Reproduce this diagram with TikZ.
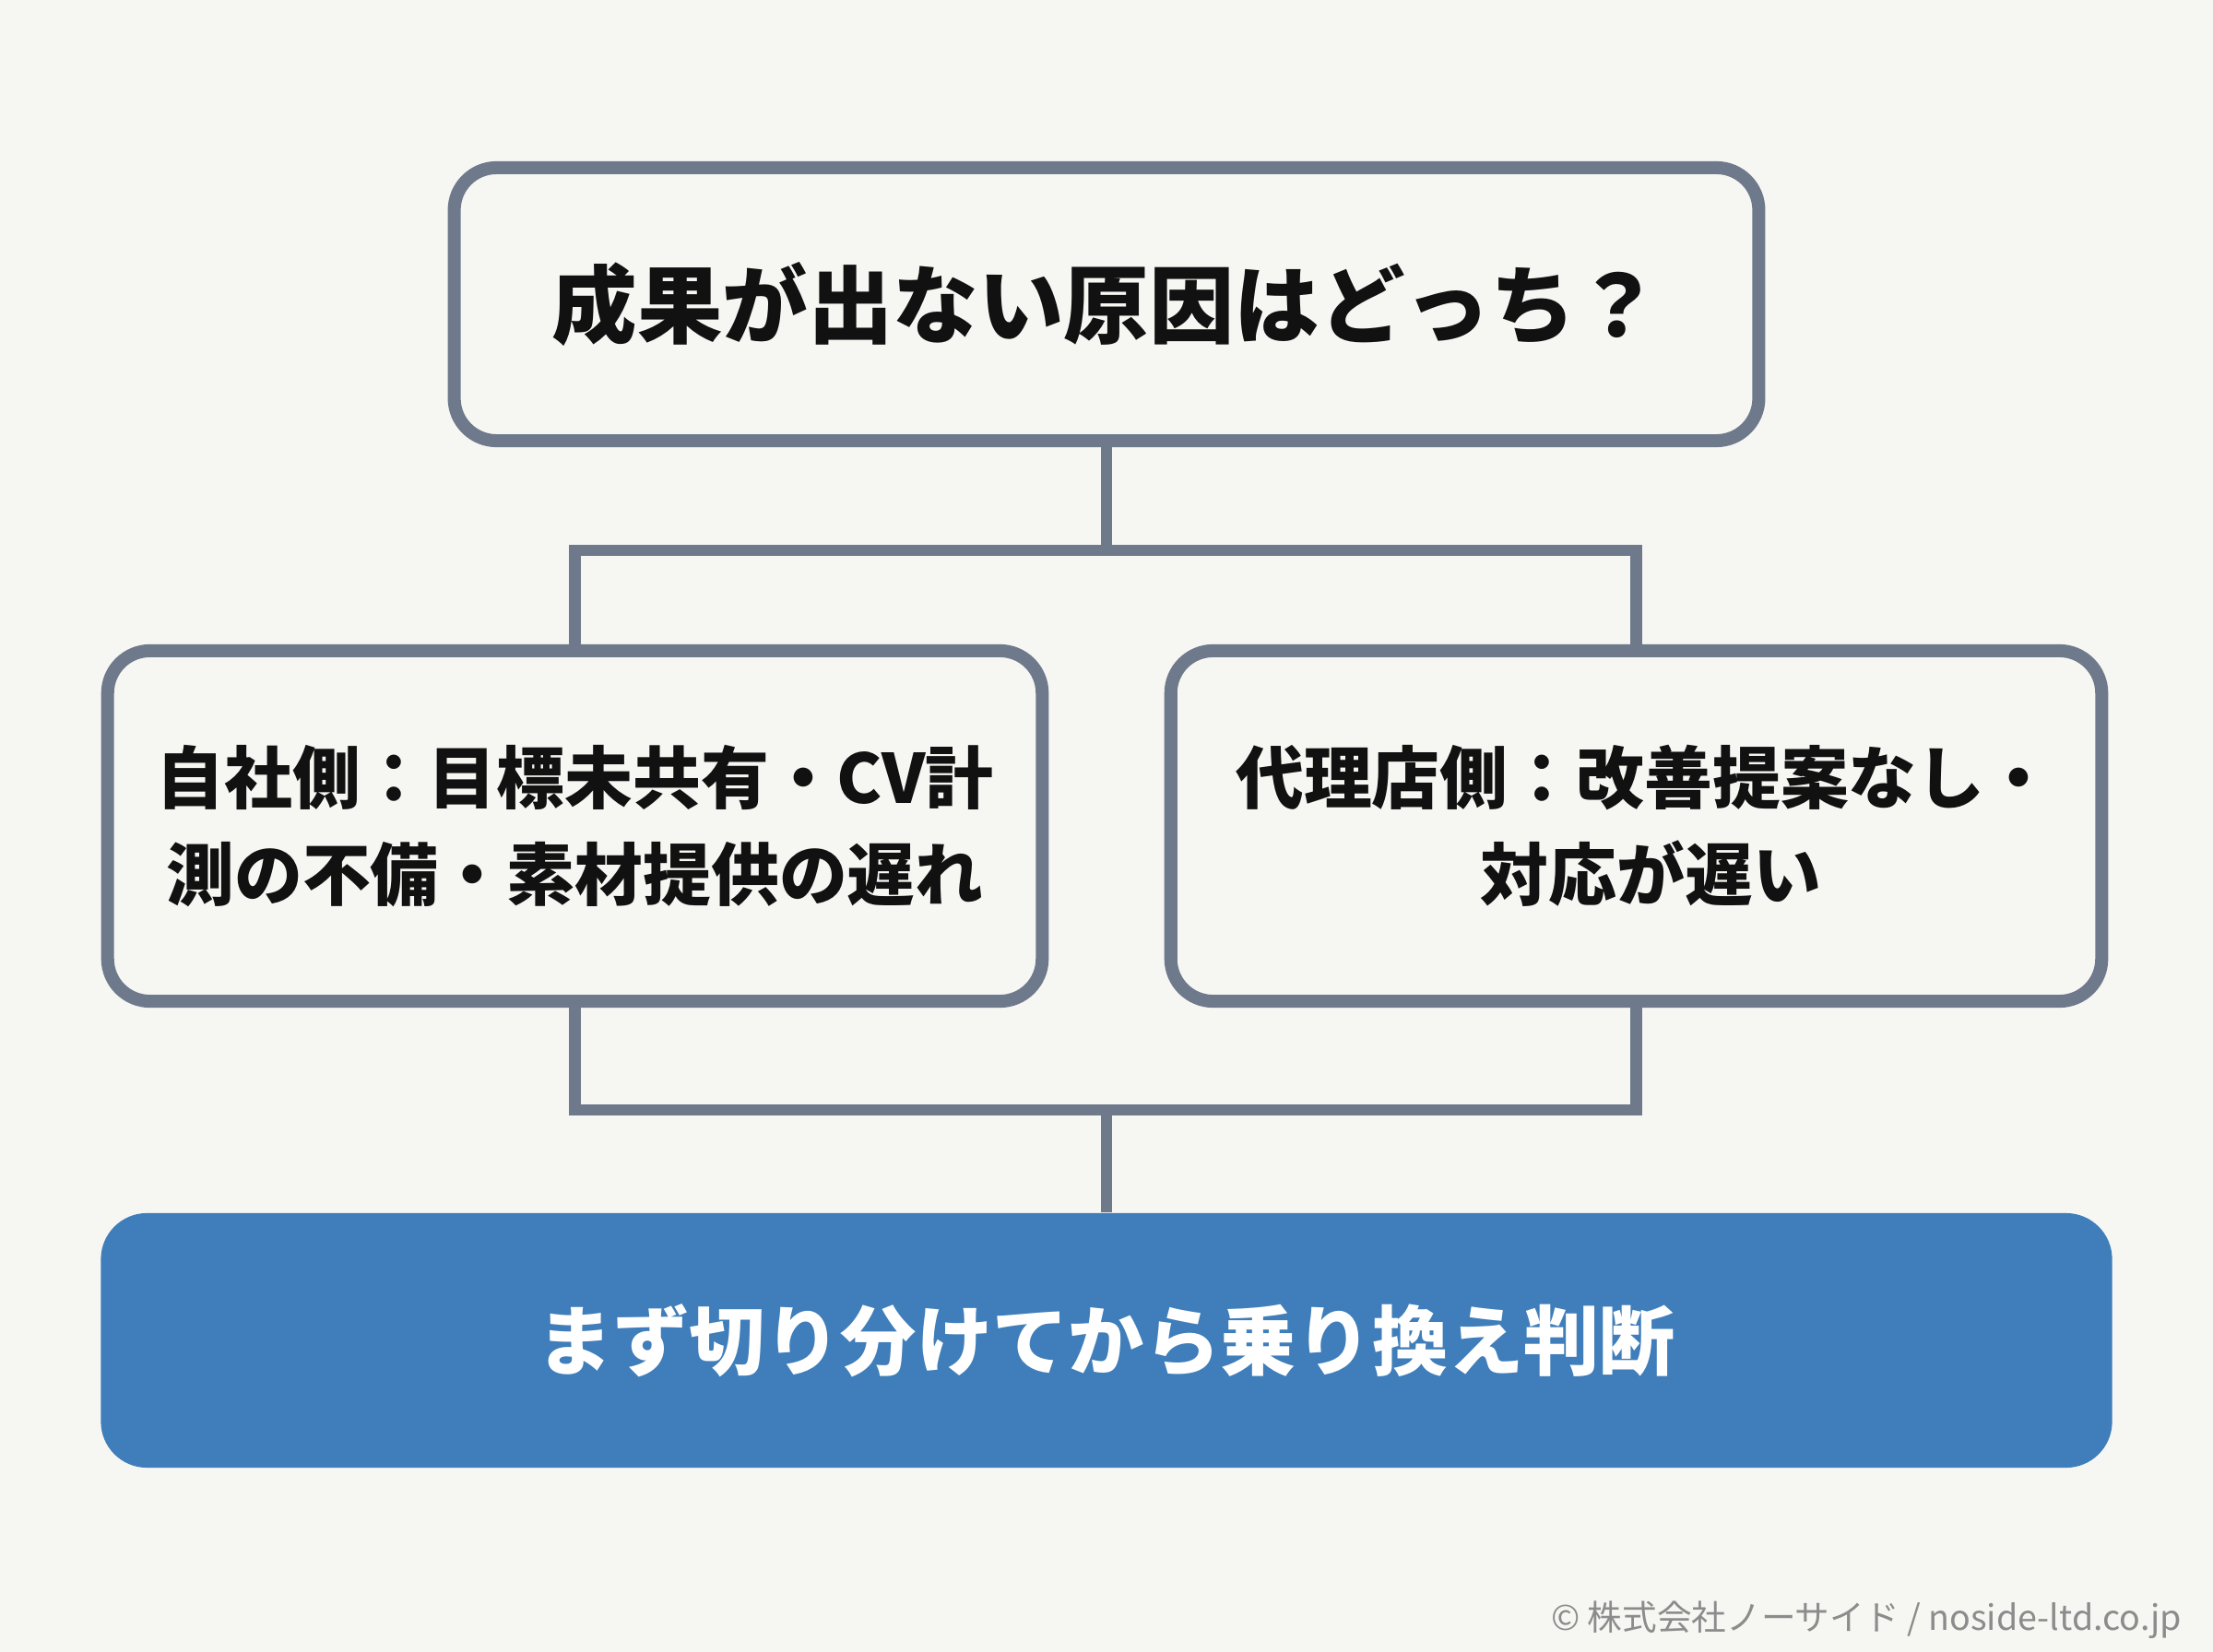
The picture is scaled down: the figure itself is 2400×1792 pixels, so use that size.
\documentclass[tikz,border=0pt]{standalone}
\usepackage{fontspec}
\newfontfamily\jp{Noto Sans CJK JP}
\definecolor{bgc}{HTML}{F6F6F3}
\definecolor{edge}{HTML}{6E7A8B}
\definecolor{bluec}{HTML}{3F7EBA}
\definecolor{ink}{HTML}{111111}
\definecolor{graytxt}{HTML}{8C8C8C}
\tikzset{
  box/.style={draw=edge, line width=4pt, fill=bgc, rounded corners=0.46cm, inner sep=0pt, align=center, text=ink, font=\jp\bfseries},
  conn/.style={draw=edge, line width=3.6pt, line join=miter},
  goal/.style={fill=bluec, rounded corners=0.5cm, inner sep=0pt, align=center, text=white, font=\jp\bfseries\fontsize{23.4pt}{28pt}\selectfont}
}
\begin{document}
\begin{tikzpicture}[x=0.01cm,y=-0.01cm]
\fill[bgc] (0,0) rectangle (2400,1792);
\useasboundingbox (0,0) rectangle (2400,1792);
\node[box, minimum width=14.14cm, minimum height=2.96cm, font=\jp\bfseries\fontsize{26.3pt}{30pt}\selectfont] (top) at (1200,330) {成果が出ない原因はどっち？};
\node[box, minimum width=10.13cm, minimum height=3.8cm, font=\jp\bfseries\fontsize{21pt}{30pt}\selectfont] (left) at (623.5,896) {自社側：目標未共有・CV計\\測の不備・素材提供の遅れ};
\node[box, minimum width=10.09cm, minimum height=3.8cm, font=\jp\bfseries\fontsize{21pt}{30pt}\selectfont] (right) at (1774.5,896) {\kern5pt 代理店側：改善提案なし・\\\kern9pt 対応が遅い};
\node[goal, minimum width=21.8cm, minimum height=2.76cm] (goal) at (1200,1454) {まず切り分けてから乗り換え判断};
\coordinate (j1) at (1200,597);
\coordinate (j2) at (1200,1204);
\draw[conn] (top.south) -- (j1);
\draw[conn] (left.north) -- (left.north |- j1) -- (right.north |- j1) -- (right.north);
\draw[conn] (left.south) -- (left.south |- j2) -- (right.south |- j2) -- (right.south);
\draw[conn] (j2) -- (goal.north);
\node[anchor=east, inner sep=0pt, text=graytxt, font=\jp\fontsize{10.7pt}{12pt}\selectfont] (copy) at (2367,1757) {© 株式会社ノーサイド / noside-ltd.co.jp};
\end{tikzpicture}
\end{document}
